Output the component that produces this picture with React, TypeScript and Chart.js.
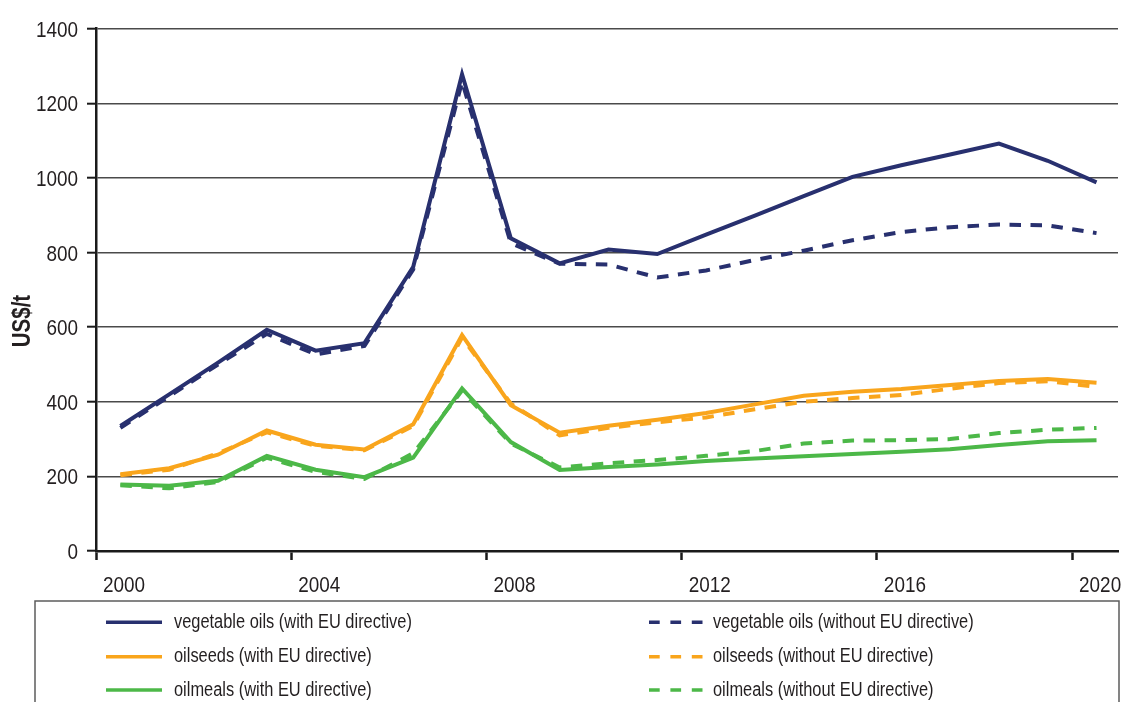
import { useEffect, useRef } from 'react';
import { Chart, registerables } from 'chart.js';

Chart.register(...registerables);

const years = [2000, 2001, 2002, 2003, 2004, 2005, 2006, 2007, 2008, 2009, 2010, 2011, 2012, 2013, 2014, 2015, 2016, 2017, 2018, 2019, 2020];
const xTickValues = [2000, 2004, 2008, 2012, 2016, 2020];
const yTickValues = [0, 200, 400, 600, 800, 1000, 1200, 1400];

const vegOilsWith = [335, 420, 505, 593, 537, 557, 762, 1278, 838, 771, 808, 796, 848, 899, 951, 1003, 1034, 1063, 1092, 1046, 988];
const vegOilsWithout = [330, 415, 500, 582, 527, 550, 755, 1258, 825, 770, 768, 733, 752, 780, 805, 833, 855, 868, 875, 873, 852];
const oilseedsWith = [206, 222, 258, 323, 285, 272, 340, 579, 391, 317, 336, 352, 370, 393, 416, 427, 434, 445, 456, 461, 451];
const oilseedsWithout = [203, 218, 262, 318, 282, 270, 335, 572, 395, 310, 330, 345, 358, 380, 400, 410, 418, 435, 450, 455, 440];
const oilmealsWith = [178, 175, 188, 255, 218, 198, 250, 436, 292, 217, 225, 232, 241, 248, 254, 260, 266, 273, 284, 294, 297];
const oilmealsWithout = [176, 168, 185, 250, 212, 193, 262, 430, 288, 224, 235, 244, 255, 268, 288, 296, 297, 300, 316, 325, 330];

const seriesLabels = [
  'vegetable oils (with EU directive)',
  'vegetable oils (without EU directive)',
  'oilseeds (with EU directive)',
  'oilseeds (without EU directive)',
  'oilmeals (with EU directive)',
  'oilmeals (without EU directive)',
];
const yAxisTitle = 'US$/t';

const FONT = "'Liberation Sans', Arial, sans-serif";
const NARROW = 0.82;
const TICK_NARROW = 0.86;
const TEXT_COLOR = '#231f20';
const NAVY = '#28306f';
const ORANGE = '#f9a51c';
const GREEN = '#4cb848';
const DASH = [11.5, 9.5];

function toPoints(values: number[]) {
  return values.map((v, i) => ({ x: years[i] + 0.5, y: v }));
}

function narrowText(
  ctx: CanvasRenderingContext2D,
  text: string,
  x: number,
  y: number,
  align: CanvasTextAlign,
  font: string,
  color: string,
  squeeze: number = NARROW
) {
  ctx.save();
  ctx.font = font;
  ctx.fillStyle = color;
  ctx.translate(x, y);
  ctx.scale(squeeze, 1);
  ctx.textAlign = align;
  ctx.textBaseline = 'alphabetic';
  ctx.fillText(text, 0, 0);
  ctx.restore();
}

const textPlugin = {
  id: 'narrowTexts',
  afterDraw(chart: any) {
    const ctx = chart.ctx as CanvasRenderingContext2D;
    const area = chart.chartArea;
    const xs = chart.scales.x;
    const ys = chart.scales.y;
    const tickFont = `22px ${FONT}`;

    // x tick labels (placed mid-year, right of the tick mark)
    xs.ticks.forEach((t: any) => {
      const px = xs.getPixelForValue(t.value) + 28;
      narrowText(ctx, String(t.value), px, area.bottom + 41, 'center', tickFont, TEXT_COLOR, TICK_NARROW);
    });
    // y tick labels
    ys.ticks.forEach((t: any) => {
      const py = ys.getPixelForValue(t.value);
      narrowText(ctx, String(t.value), area.left - 18, py + 8, 'right', tickFont, TEXT_COLOR, TICK_NARROW);
    });

    // y axis title
    ctx.save();
    ctx.translate(30, 321);
    ctx.rotate(-Math.PI / 2);
    ctx.scale(NARROW, 1);
    ctx.font = `bold 25px ${FONT}`;
    ctx.fillStyle = TEXT_COLOR;
    ctx.textAlign = 'center';
    ctx.textBaseline = 'alphabetic';
    ctx.fillText(yAxisTitle, 0, 0);
    ctx.restore();

    // legend box
    ctx.save();
    ctx.strokeStyle = '#5c5c5c';
    ctx.lineWidth = 1.5;
    ctx.setLineDash([]);
    ctx.beginPath();
    ctx.moveTo(35, 715);
    ctx.lineTo(35, 601);
    ctx.lineTo(1119, 601);
    ctx.lineTo(1119, 715);
    ctx.stroke();

    const rowsY = [622.3, 656.7, 690];
    const cols = [
      { x0: 106, x1: 162, tx: 174 },
      { x0: 649, x1: 703.5, tx: 713 },
    ];
    chart.data.datasets.forEach((ds: any, i: number) => {
      const col = cols[i % 2];
      const y = rowsY[Math.floor(i / 2)];
      ctx.strokeStyle = ds.borderColor;
      ctx.lineWidth = 3.5;
      ctx.lineCap = 'butt';
      ctx.setLineDash(ds.borderDash && ds.borderDash.length ? [10.7, 10.7] : []);
      ctx.beginPath();
      ctx.moveTo(col.x0, y);
      ctx.lineTo(col.x1, y);
      ctx.stroke();
      ctx.setLineDash([]);
      narrowText(ctx, ds.label, col.tx, y + 5.5, 'left', `20px ${FONT}`, TEXT_COLOR);
    });
    ctx.restore();
  },
};

export default function App() {
  const canvasRef = useRef<HTMLCanvasElement | null>(null);

  useEffect(() => {
    document.body.style.margin = '0';
    const canvas = canvasRef.current;
    if (!canvas) return;
    const series = [vegOilsWith, vegOilsWithout, oilseedsWith, oilseedsWithout, oilmealsWith, oilmealsWithout];
    const colors = [NAVY, NAVY, ORANGE, ORANGE, GREEN, GREEN];
    const chart = new Chart(canvas, {
      type: 'line',
      data: {
        datasets: series.map((vals, i) => ({
          label: seriesLabels[i],
          data: toPoints(vals),
          borderColor: colors[i],
          backgroundColor: colors[i],
          borderWidth: 4,
          borderDash: i % 2 === 1 ? DASH : [],
          pointRadius: 0,
          tension: 0,
          fill: false,
        })),
      },
      options: {
        animation: false,
        responsive: false,
        devicePixelRatio: 1,
        layout: { padding: { left: 0, top: 28.7, right: 4, bottom: 91 } },
        plugins: {
          legend: { display: false },
          tooltip: { enabled: false },
        },
        scales: {
          x: {
            type: 'linear',
            min: 2000,
            max: 2020.94,
            afterBuildTicks: (scale: any) => {
              scale.ticks = xTickValues.map((v) => ({ value: v }));
            },
            afterFit: (scale: any) => {
              scale.height = 60;
            },
            grid: {
              drawOnChartArea: false,
              drawTicks: true,
              tickLength: 9,
              tickColor: '#1a1a1a',
              tickWidth: 2.5,
            },
            border: { display: true, color: '#1a1a1a', width: 2.5 },
            ticks: { display: false },
          },
          y: {
            type: 'linear',
            min: 0,
            max: 1400,
            afterBuildTicks: (scale: any) => {
              scale.ticks = yTickValues.map((v) => ({ value: v }));
            },
            afterFit: (scale: any) => {
              scale.width = 96;
            },
            grid: {
              color: '#4a4a4a',
              lineWidth: 1.4,
              drawTicks: true,
              tickLength: 9,
              tickColor: '#1a1a1a',
              tickWidth: 2,
            },
            border: { display: true, color: '#1a1a1a', width: 2.5 },
            ticks: { display: false },
          },
        },
      },
      plugins: [textPlugin],
    });
    return () => chart.destroy();
  }, []);

  return (
    <div style={{ position: 'relative', width: 1122, height: 702, background: '#fff' }}>
      <canvas ref={canvasRef} width={1122} height={702} style={{ display: 'block', width: 1122, height: 702 }} />
    </div>
  );
}
